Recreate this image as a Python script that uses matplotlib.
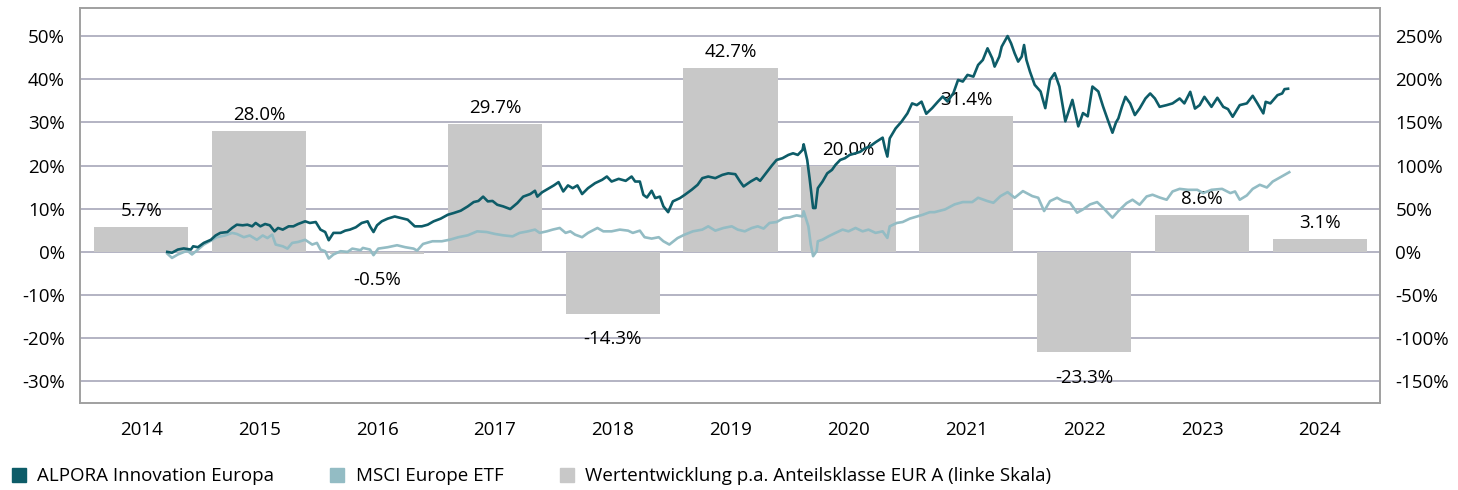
import matplotlib.pyplot as plt
from matplotlib.patches import Patch

plt.rcParams['font.family'] = ['Open Sans', 'DejaVu Sans']

years = [2014, 2015, 2016, 2017, 2018, 2019, 2020, 2021, 2022, 2023, 2024]
perf_pa = [5.7, 28.0, -0.5, 29.7, -14.3, 42.7, 20.0, 31.4, -23.3, 8.6, 3.1]

# cumulative lines (right scale), time in years
alpora_t = [2014.22, 2014.26, 2014.31, 2014.36, 2014.42, 2014.44, 2014.48, 2014.53, 2014.59, 2014.63,
            2014.67, 2014.73, 2014.77, 2014.81, 2014.86, 2014.90, 2014.94, 2014.97, 2015.01, 2015.05,
            2015.09, 2015.13, 2015.16, 2015.20, 2015.25, 2015.29, 2015.33, 2015.39, 2015.43, 2015.48,
            2015.52, 2015.56, 2015.59, 2015.63, 2015.69, 2015.73, 2015.77, 2015.82, 2015.87, 2015.92,
            2015.94, 2015.97, 2016.00, 2016.04, 2016.09, 2016.15, 2016.21, 2016.26, 2016.32, 2016.38,
            2016.43, 2016.48, 2016.54, 2016.60, 2016.65, 2016.71, 2016.77, 2016.82, 2016.86, 2016.90,
            2016.94, 2016.98, 2017.02, 2017.07, 2017.13, 2017.19, 2017.24, 2017.30, 2017.34, 2017.36,
            2017.40, 2017.45, 2017.50, 2017.54, 2017.58, 2017.62, 2017.66, 2017.70, 2017.74, 2017.79,
            2017.85, 2017.91, 2017.95, 2017.99, 2018.05, 2018.11, 2018.16, 2018.19, 2018.23, 2018.26,
            2018.29, 2018.33, 2018.36, 2018.40, 2018.43, 2018.47, 2018.51, 2018.57, 2018.61, 2018.67,
            2018.72, 2018.76, 2018.81, 2018.87, 2018.93, 2018.98, 2019.04, 2019.08, 2019.11, 2019.17,
            2019.22, 2019.25, 2019.31, 2019.35, 2019.39, 2019.44, 2019.49, 2019.53, 2019.57, 2019.61,
            2019.62, 2019.65, 2019.67, 2019.70, 2019.72, 2019.74, 2019.78, 2019.82, 2019.86, 2019.89,
            2019.93, 2019.97, 2020.01, 2020.06, 2020.10, 2020.14, 2020.18, 2020.23, 2020.29, 2020.31,
            2020.33, 2020.35, 2020.40, 2020.45, 2020.50, 2020.54, 2020.58, 2020.62, 2020.66, 2020.71,
            2020.76, 2020.80, 2020.84, 2020.89, 2020.93, 2020.97, 2021.01, 2021.06, 2021.10, 2021.14,
            2021.18, 2021.22, 2021.24, 2021.28, 2021.30, 2021.35, 2021.38, 2021.41, 2021.44, 2021.47,
            2021.49, 2021.51, 2021.54, 2021.58, 2021.63, 2021.67, 2021.71, 2021.75, 2021.79, 2021.84,
            2021.90, 2021.95, 2021.99, 2022.03, 2022.07, 2022.12, 2022.16, 2022.20, 2022.24, 2022.27,
            2022.29, 2022.32, 2022.35, 2022.39, 2022.43, 2022.47, 2022.52, 2022.56, 2022.60, 2022.64,
            2022.70, 2022.75, 2022.81, 2022.85, 2022.90, 2022.94, 2022.98, 2023.02, 2023.08, 2023.13,
            2023.18, 2023.22, 2023.26, 2023.32, 2023.38, 2023.43, 2023.47, 2023.52, 2023.54, 2023.58,
            2023.64, 2023.68, 2023.70, 2023.73]
alpora = [0, -1, 2.7, 4, 2.7, 6.5, 5.4, 10.4, 14, 19,
          22, 23, 27.7, 31.5, 30.8, 31.5, 29.6, 33.5, 29.6, 32.3,
          30.8, 23.8, 27.7, 25.8, 29.6, 29.6, 32.3, 35.4, 33.5, 34.6,
          25.8, 23, 13.5, 22, 22, 24.6, 25.8, 28.5, 33.5, 35.4,
          29.6, 23, 30.8, 35.4, 38.5, 41, 39, 37.3, 29.6, 29.6,
          31.5, 35.4, 38.5, 43, 45, 47.7, 52.7, 57.7, 59, 64,
          58.5, 59, 54.6, 52.7, 49.6, 56.5, 64, 67, 70.8, 64,
          69, 73, 77, 80.8, 70, 77, 73.8, 77, 67, 73.8,
          79.6, 83.5, 87.3, 81.5, 84.6, 82.3, 87.3, 81.5, 81.5, 66,
          63, 70.8, 62.3, 64, 52.7, 46, 58.5, 62.3, 66, 72,
          77.7, 85.4, 87.3, 85.4, 89.2, 91, 90, 81.5, 75.8, 81.5,
          85.4, 82.3, 93, 100, 106.5, 108.5, 112.3, 114.2, 112.3, 118,
          124.6, 106.5, 85.4, 50.8, 50.8, 73.8, 81.5, 91, 95, 100.8,
          106.5, 108.5, 112.3, 114.2, 116, 120, 122, 127, 132.3, 120,
          110.4, 131.5, 143, 150.8, 160.4, 172, 170, 174, 160, 166.5,
          174.2, 180, 174.2, 183.8, 199.2, 197.3, 205, 203, 216.5, 222.3,
          235.8, 224.2, 214.6, 226.2, 237.7, 250, 241.5, 230, 220.4, 226.2,
          239.6, 222.3, 208.8, 193.5, 185.8, 166.5, 199.2, 207, 191.5, 151.2,
          176, 145.4, 160.8, 157, 191.5, 185.8, 168.5, 153, 138, 150,
          154.6, 168, 179.6, 172, 158.5, 166, 177.7, 183.5, 177.7, 168,
          170, 172, 177.7, 172, 185.4, 166, 170, 179.6, 168, 178.5,
          168, 165.4, 156.5, 170, 172, 180.8, 172, 160.4, 173.8, 172,
          181.5, 183.5, 188.5, 189]

msci_t = [2014.22, 2014.26, 2014.31, 2014.39, 2014.43, 2014.47, 2014.53, 2014.59, 2014.64, 2014.71,
          2014.77, 2014.81, 2014.87, 2014.92, 2014.98, 2015.03, 2015.07, 2015.11, 2015.14, 2015.20,
          2015.24, 2015.28, 2015.33, 2015.39, 2015.45, 2015.49, 2015.52, 2015.56, 2015.59, 2015.63,
          2015.69, 2015.75, 2015.79, 2015.86, 2015.88, 2015.94, 2015.97, 2016.01, 2016.09, 2016.17,
          2016.24, 2016.31, 2016.34, 2016.39, 2016.47, 2016.55, 2016.62, 2016.69, 2016.77, 2016.85,
          2016.93, 2017.00, 2017.07, 2017.15, 2017.21, 2017.28, 2017.34, 2017.38, 2017.44, 2017.49,
          2017.55, 2017.60, 2017.64, 2017.68, 2017.74, 2017.79, 2017.87, 2017.92, 2017.99, 2018.06,
          2018.13, 2018.17, 2018.23, 2018.27, 2018.33, 2018.39, 2018.43, 2018.48, 2018.55, 2018.61,
          2018.68, 2018.76, 2018.81, 2018.87, 2018.94, 2019.01, 2019.06, 2019.12, 2019.18, 2019.23,
          2019.28, 2019.33, 2019.39, 2019.45, 2019.50, 2019.56, 2019.61, 2019.62, 2019.66, 2019.68,
          2019.70, 2019.73, 2019.74, 2019.78, 2019.83, 2019.89, 2019.95, 2020.00, 2020.06, 2020.12,
          2020.17, 2020.23, 2020.29, 2020.33, 2020.35, 2020.41, 2020.46, 2020.52, 2020.58, 2020.63,
          2020.69, 2020.73, 2020.82, 2020.90, 2020.97, 2021.05, 2021.10, 2021.18, 2021.23, 2021.29,
          2021.35, 2021.41, 2021.48, 2021.56, 2021.61, 2021.66, 2021.71, 2021.77, 2021.82, 2021.88,
          2021.94, 2021.99, 2022.05, 2022.11, 2022.16, 2022.24, 2022.29, 2022.36, 2022.41, 2022.47,
          2022.53, 2022.58, 2022.64, 2022.70, 2022.75, 2022.81, 2022.88, 2022.96, 2023.01, 2023.08,
          2023.17, 2023.24, 2023.28, 2023.32, 2023.38, 2023.43, 2023.49, 2023.55, 2023.60, 2023.66,
          2023.70, 2023.74]
msci = [-2, -7, -3, 1.5, -3, 1.5, 8.5, 13, 17, 19,
        22, 20.8, 17, 19, 14, 19, 16, 20, 8.5, 6.5,
        3.8, 10.4, 11.5, 14, 8.5, 10.4, 2.7, 0.8, -7.7, -3,
        0.8, 0, 3.8, 2, 4.6, 2.7, -3.8, 3.8, 5.4, 7.7,
        5.4, 3.8, 1.5, 9.2, 12.3, 12.3, 14.2, 17, 19.2, 23.8,
        23, 20.8, 19.2, 18, 22, 23.8, 25.8, 22, 23.8, 25.8,
        27.7, 22, 23.8, 20, 17, 22, 27.7, 23.8, 23.8, 25.8,
        24.6, 22, 24.6, 17, 15.4, 17, 12.3, 8.5, 16, 20,
        23.8, 25.8, 29.6, 24.6, 27.7, 29.6, 25.8, 23.8, 27.7, 29.6,
        27, 33.5, 34.6, 39.2, 40, 42.3, 41, 47, 29.6, 8.5,
        -5, 0.8, 12.3, 14.2, 18, 22, 25.8, 23.8, 27.7, 23.8,
        25.8, 22, 23.8, 16.2, 29.6, 33.5, 34.6, 38.5, 41, 43,
        46, 46, 49.2, 55, 57.7, 57.7, 62.7, 58.8, 56.9, 64.6,
        69.2, 62.7, 70.4, 64.6, 62.7, 47.3, 58.8, 62.7, 58.8, 56.9,
        45.4, 49.2, 55, 57.7, 51.2, 39.6, 47.3, 56.5, 60.4, 54.6,
        64.2, 66.2, 63, 60.4, 70, 73, 71.9, 71.9, 68.1, 71.9,
        73, 68.1, 70, 60.4, 65.4, 73, 77.7, 74.6, 81.5, 86.2,
        89.2, 92.3]

fig = plt.figure(figsize=(14.58, 4.9), dpi=100)
ax = fig.add_axes([0.0549, 0.1776, 0.8916, 0.8061])

ax.bar(years, perf_pa, width=0.8, color='#c8c8c8', zorder=2)
ax.set_axisbelow(True)
ax.grid(axis='y', color='#b3b3c3', linewidth=1.4)
ax.set_xlim(2013.48, 2024.51)
ax.set_ylim(-35, 56.5)
ax.set_yticks(range(-30, 51, 10))
ax.set_yticklabels([f'{v}%' for v in range(-30, 51, 10)])
ax.set_xticks(years)

for yr, v in zip(years, perf_pa):
    if v >= 0:
        ax.annotate(f'{v:.1f}%', (yr, v), xytext=(0, 5), textcoords='offset points',
                    ha='center', va='bottom', fontsize=13.5, zorder=3)
    else:
        ax.annotate(f'{v:.1f}%', (yr, v), xytext=(0, -12), textcoords='offset points',
                    ha='center', va='top', fontsize=13.5, zorder=3)

ax2 = ax.twinx()
ax2.plot(msci_t, msci, color='#93bcc4', linewidth=1.9)
ax2.plot(alpora_t, alpora, color='#0d5c68', linewidth=1.9)
ax2.set_ylim(-175, 282.5)
ax2.set_yticks(range(-150, 251, 50))
ax2.set_yticklabels([f'{v}%' for v in range(-150, 251, 50)])

for a in (ax, ax2):
    for s in a.spines.values():
        s.set_color('#a0a0a0')
        s.set_linewidth(1.2)
    a.tick_params(axis='y', length=0, labelsize=13.5, pad=11)
ax.tick_params(axis='x', length=0, labelsize=13.5, pad=13)

handles = [Patch(color='#0d5c68'), Patch(color='#93bcc4'), Patch(color='#c8c8c8')]
labels = ['ALPORA Innovation Europa', 'MSCI Europe ETF',
          'Wertentwicklung p.a. Anteilsklasse EUR A (linke Skala)']
fig.legend(handles, labels, loc='center left', bbox_to_anchor=(0.003, 0.028), ncol=3,
           frameon=False, fontsize=13.5, handlelength=0.75, handleheight=0.75,
           handletextpad=0.6, columnspacing=3.0, borderaxespad=0)

plt.savefig('out.png', dpi=100)
